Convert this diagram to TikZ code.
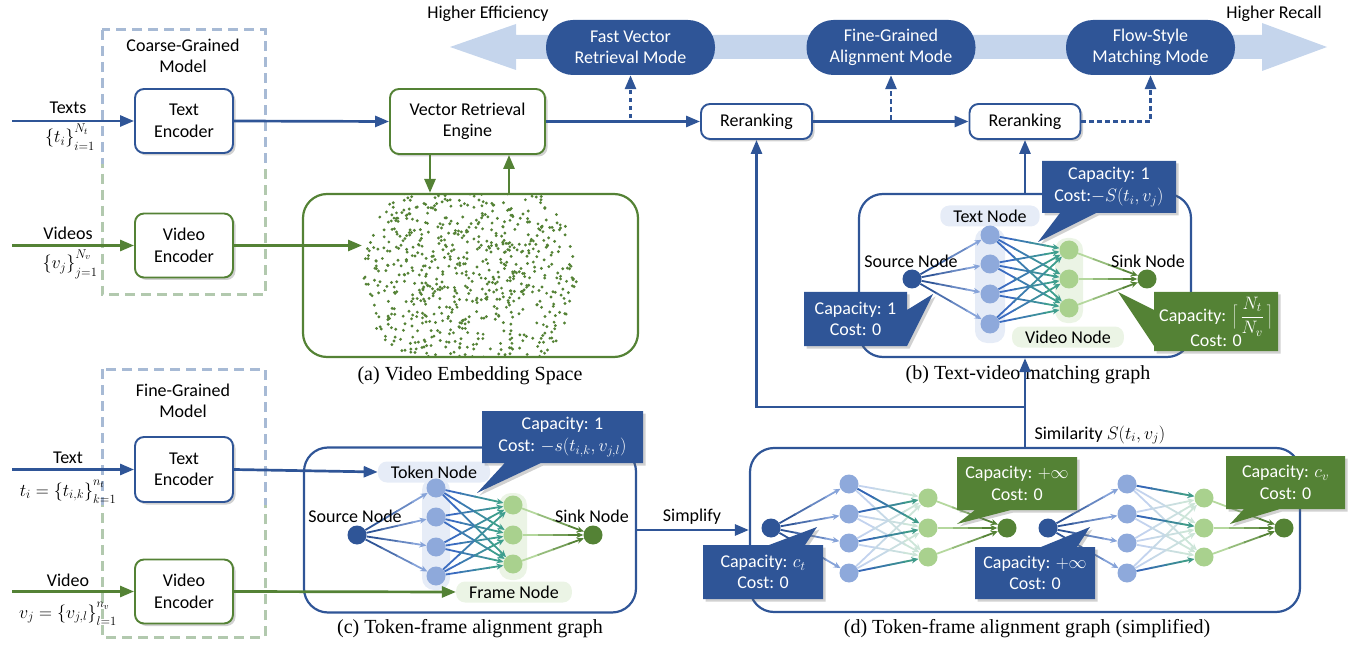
\RequirePackage{fix-cm}
\documentclass[tikz,border=0pt]{standalone}
\usepackage{fontspec}
\setmainfont{Carlito}
\newfontfamily\capfont{Liberation Serif}
\usetikzlibrary{arrows.meta,shapes.callouts,shadows,calc}

\definecolor{dblue}{HTML}{2F5597}
\definecolor{dgreen}{HTML}{548235}
\definecolor{banner}{HTML}{C5D5EC}
\definecolor{tnc}{HTML}{8EA9DB}
\definecolor{vnc}{HTML}{A9D18E}
\definecolor{bgb}{HTML}{E6ECF7}
\definecolor{bgg}{HTML}{EBF4E5}
\definecolor{dashb}{HTML}{A7BAD5}
\definecolor{dashg}{HTML}{B2C9AE}
\definecolor{sAa}{HTML}{2F5597}
\definecolor{sAb}{HTML}{86A3D9}
\definecolor{tBa}{HTML}{3B6CC0}
\definecolor{tBb}{HTML}{3E9E8E}
\definecolor{fCa}{HTML}{B5D89E}
\definecolor{fCb}{HTML}{548235}
\definecolor{lLa}{HTML}{C3D3EE}
\definecolor{lLb}{HTML}{CDE5D9}
\definecolor{dDa}{HTML}{3567B5}
\definecolor{dDb}{HTML}{3E9A8A}

\newcommand\gedge[4]{%
  \path (#1) -- (#2) coordinate[pos=0] (gA) coordinate[pos=1] (gB);
  \draw[line width=1.8pt, draw=#3] (gA) -- ($(gA)!0.27!(gB)$);
  \draw[line width=1.8pt, draw=#3!67!#4] ($(gA)!0.25!(gB)$) -- ($(gA)!0.52!(gB)$);
  \draw[line width=1.8pt, draw=#3!33!#4] ($(gA)!0.50!(gB)$) -- ($(gA)!0.77!(gB)$);
  \draw[line width=1.8pt, draw=#4, -{Stealth[length=7pt,width=6pt]}] ($(gA)!0.75!(gB)$) -- (gB);
}
\newcommand\upsc[1]{\raisebox{4pt}{$\scriptstyle #1$}}
\newcommand\dnsc[1]{\raisebox{-3pt}{$\scriptstyle #1$}}

\begin{document}
\begin{tikzpicture}[x=1pt,y=-1pt, font=\fontsize{18}{21.5}\selectfont,
 shd/.style={drop shadow={shadow xshift=2.5pt,shadow yshift=-2.5pt,opacity=0.3,fill=black!60}},
 box/.style={draw=#1, line width=1.9pt, rounded corners=9pt, fill=white, align=center, inner sep=2pt, shd},
 bigbox/.style={draw=#1, line width=2.2pt, rounded corners=24pt, inner sep=0pt},
 pill/.style={fill=dblue, text=white, rounded corners=27pt, minimum width=169pt, minimum height=55pt, align=center, inner sep=0pt},
 call/.style={rectangle callout, fill=#1, text=white, align=center, inner sep=2pt, callout pointer width=36pt, shd},
 barrow/.style={draw=dblue, line width=2.7pt, -{Triangle[length=14pt,width=11pt]}},
 garrow/.style={draw=dgreen, line width=2.7pt, -{Triangle[length=14pt,width=11pt]}},
 darrow/.style={draw=dblue, line width=2.8pt, dash pattern=on 4.5pt off 3.5pt, -{Triangle[length=14pt,width=11pt]}},
 dashbox/.style={draw=#1, line width=3pt, dash pattern=on 10pt off 6pt},
 gn/.style={circle, fill=#1, minimum size=19pt, inner sep=0pt},
 lab/.style={fill=#1, rounded corners=9pt, inner xsep=13pt, inner ysep=1pt, minimum height=21pt},
 capf/.style={font=\capfont\fontsize{20}{24}\selectfont},
]
\useasboundingbox (0,0) rectangle (1369,647);

% ---------- top banner ----------
\fill[banner] (450,47) -- (516,24) -- (516,35) -- (1262,35) -- (1262,23) -- (1327,47) -- (1262,71) -- (1262,59) -- (516,59) -- (516,70) -- cycle;
\node (he) at (488,14) {Higher Efficiency};
\node (hr) at (1274,14) {Higher Recall};
\node[pill] (pill1) at (630.5,47.5) {Fast Vector\\Retrieval Mode};
\node[pill] (pill2) at (891,47.5) {Fine-Grained\\Alignment Mode};
\node[pill] (pill3) at (1150.5,47.5) {Flow-Style\\Matching Mode};

% ---------- dashed model boxes ----------
\draw[dashbox=dashb] (102,30) rectangle (265,295);
\begin{scope}\clip (80,165) rectangle (290,310);
\draw[dashbox=dashg] (102,30) rectangle (265,295);
\end{scope}
\draw[dashbox=dashb] (102,369) rectangle (265,637);
\begin{scope}\clip (80,505) rectangle (290,647);
\draw[dashbox=dashg] (102,369) rectangle (265,637);
\end{scope}
\node[align=center] (cgm) at (183,56) {Coarse-Grained\\Model};
\node[align=center] (fgm) at (183,401) {Fine-Grained\\Model};

% ---------- encoders ----------
\node[box=dblue, minimum width=98pt, minimum height=64pt] (te1) at (184,121) {Text\\Encoder};
\node[box=dgreen, minimum width=98pt, minimum height=64pt] (ve1) at (184,245.5) {Video\\Encoder};
\node[box=dblue, minimum width=98pt, minimum height=65pt] (te2) at (184,469.5) {Text\\Encoder};
\node[box=dgreen, minimum width=98pt, minimum height=64pt] (ve2) at (184,591.5) {Video\\Encoder};

\coordinate (in1) at (12,121);
\coordinate (in2) at (12,245.5);
\coordinate (in3) at (12,469.5);
\coordinate (in4) at (12,591.5);
\draw[barrow] (in1) -- (te1.west);
\draw[garrow] (in2) -- (ve1.west);
\draw[barrow] (in3) -- (te2.west);
\draw[garrow] (in4) -- (ve2.west);
\node (l1) at (68,108) {Texts};
\node (m1) at (70,137) {$\{t_i\}^{\upsc{N_t}}_{\dnsc{i=1}}$};
\node (l2) at (68,233) {Videos};
\node (m2) at (70,264) {$\{v_j\}^{\upsc{N_v}}_{\dnsc{j=1}}$};
\node (l3) at (68,458) {Text};
\node (m3) at (68,492) {$t_i=\{t_{i,k}\}^{\upsc{n_t}}_{\dnsc{k=1}}$};
\node (l4) at (68,580) {Video};
\node (m4) at (68,614) {$v_j=\{v_{j,l}\}^{\upsc{n_v}}_{\dnsc{l=1}}$};

% ---------- vector retrieval + reranking ----------
\node[box=dgreen, minimum width=155pt, minimum height=65pt] (vre) at (467.5,121.5) {Vector Retrieval\\Engine};
\node[box=dblue, minimum width=111pt, minimum height=35pt] (rr1) at (756.5,121.5) {Reranking};
\node[box=dblue, minimum width=111pt, minimum height=35pt] (rr2) at (1025,121.5) {Reranking};

\draw[barrow] (te1.east) -- (vre.west);
\coordinate (j1) at (630.5,121.5);
\coordinate (j2) at (891,121.5);
\coordinate (j3) at (1150.5,121.5);
\draw[barrow] (vre.east) -- (rr1.west);
\draw[barrow] (rr1.east) -- (rr2.west);
\draw[darrow] (vre.east) -- (j1) -- (pill1.south);
\draw[darrow] (rr1.east) -- (j2) -- (pill2.south);
\draw[darrow] (rr2.east) -- (j3) -- (pill3.south);

% ---------- (a) embedding space ----------
\node[bigbox=dgreen, minimum width=335pt, minimum height=163pt] (boxa) at (470.5,275.5) {};
\begin{scope}
\clip (304,196) rectangle (637,356);
\pgfmathsetseed{4242}
\foreach \k in {1,...,820}{
  \pgfmathsetmacro{\rr}{108*sqrt(rnd)}
  \pgfmathsetmacro{\aa}{360*rnd}
  \fill[dgreen] ({470+\rr*cos(\aa)},{276+\rr*sin(\aa)}) circle (1.6);
}
\end{scope}
\coordinate (dotsin) at (362,245.5);
\draw[garrow] (ve1.east) -- (dotsin);
\draw[garrow] ([xshift=-37.5pt]vre.south) -- ([xshift=-40.5pt]boxa.north);
\draw[garrow] ([xshift=38.5pt]boxa.north) -- ([xshift=41.5pt]vre.south);
\node[capf] (capa) at (470,376) {(a) Video Embedding Space};

% ---------- (b) text-video matching graph ----------
\node[bigbox=dblue, minimum width=332pt, minimum height=163pt] (boxb) at (1025,275.5) {};
\draw[barrow] (boxb.north) -- (rr2.south);
\fill[bgb, rounded corners=12pt] (975,228) rectangle (1005,343);
\fill[bgg, rounded corners=12pt] (1055,238) rectangle (1083,323);
\node[lab=bgb] (bTL) at (990,216) {Text Node};
\node[lab=bgg] (bVL) at (1068,337) {Video Node};
\node[gn=dblue] (bS) at (912,279) {};
\foreach \i/\y in {1/235,2/264,3/294,4/324} \node[gn=tnc] (bT\i) at (990,\y) {};
\foreach \j/\y in {1/250,2/279,3/308} \node[gn=vnc] (bV\j) at (1069,\y) {};
\node[gn=dgreen] (bK) at (1147,279) {};
\foreach \i in {1,...,4} \gedge{bS}{bT\i}{sAa}{sAb};
\foreach \i in {1,...,4} \foreach \j in {1,2,3} \gedge{bT\i}{bV\j}{tBa}{tBb};
\foreach \j in {1,2,3} \gedge{bV\j}{bK}{fCa}{fCb};
\node (bSL) at (911,261) {Source Node};
\node (bKL) at (1148,261) {Sink Node};
\node[call=dblue, minimum width=134pt, minimum height=52pt, callout absolute pointer={(1038,242)}] (cb1) at (1109,187) {Capacity: 1\\Cost:$-S(t_i,v_j)$};
\node[call=dblue, minimum width=103pt, minimum height=54pt, callout absolute pointer={(933,294)}] (cb2) at (855.5,319) {Capacity: 1\\Cost: 0};
\node[call=dgreen, minimum width=124pt, minimum height=59pt, callout absolute pointer={(1118,292)}] (cb3) at (1216,321.5) {Capacity: $\Biggl\lceil\,\displaystyle\frac{N_t}{N_v}\,\Biggr\rceil$\\[-3pt]Cost: 0};
\node[capf] (capb) at (1028,375) {(b) Text-video matching graph};

% ---------- (c) token-frame alignment graph ----------
\node[bigbox=dblue, minimum width=332pt, minimum height=165pt] (boxc) at (470,530) {};
\fill[bgb, rounded corners=12pt] (422,478) rectangle (450,590);
\fill[bgg, rounded corners=12pt] (499,493) rectangle (527,580);
\node[lab=bgb] (cTL) at (434,472) {Token Node};
\node[lab=bgg] (cFL) at (514,592) {Frame Node};
\node[gn=dblue] (cS) at (357,535) {};
\foreach \i/\y in {1/488,2/517,3/547,4/576} \node[gn=tnc] (cT\i) at (436,\y) {};
\foreach \j/\y in {1/505,2/535,3/564} \node[gn=vnc] (cF\j) at (513,\y) {};
\node[gn=dgreen] (cK) at (593,535) {};
\foreach \i in {1,...,4} \gedge{cS}{cT\i}{sAa}{sAb};
\foreach \i in {1,...,4} \foreach \j in {1,2,3} \gedge{cT\i}{cF\j}{tBa}{tBb};
\foreach \j in {1,2,3} \gedge{cF\j}{cK}{fCa}{fCb};
\node (cSL) at (355,516) {Source Node};
\node (cKL) at (592,516) {Sink Node};
\draw[barrow] (te2.east) -- (cTL.west);
\draw[garrow] (ve2.east) -- (cFL.west);
\node[call=dblue, minimum width=161pt, minimum height=52pt, callout absolute pointer={(477,493)}] (cc1) at (562.5,437) {Capacity: 1\\Cost: $-s(t_{i,k},v_{j,l})$};
\node[capf] (capc) at (470,629) {(c) Token-frame alignment graph};

% ---------- (d) simplified ----------
\node[bigbox=dblue, minimum width=550pt, minimum height=164pt] (boxd) at (1025,530) {};
\draw[barrow] (boxc.east) -- (boxd.west);
\node (simp) at (692,517) {Simplify};
\foreach \p/\sx/\tx/\fx/\kx in {d1/771/849/928/1007, d2/1048/1127/1204/1284}{
  \node[gn=dblue] (\p S) at (\sx,528) {};
  \foreach \i/\y in {1/484,2/514,3/543,4/573} \node[gn=tnc] (\p T\i) at (\tx,\y) {};
  \foreach \j/\y in {1/498,2/528,3/557} \node[gn=vnc] (\p F\j) at (\fx,\y) {};
  \node[gn=dgreen] (\p K) at (\kx,528) {};
  \foreach \i in {1,...,4} \gedge{\p S}{\p T\i}{sAa}{sAb};
  \foreach \i in {1,...,4} \foreach \j in {1,2,3} \gedge{\p T\i}{\p F\j}{lLa}{lLb};
  \foreach \j in {1,2,3} \gedge{\p F\j}{\p K}{fCa}{fCb};
}
\foreach \i/\j in {1/2,2/1,3/2,4/3} \gedge{d1T\i}{d1F\j}{dDa}{dDb};
\foreach \i/\j in {1/1,2/2,4/3} \gedge{d2T\i}{d2F\j}{dDa}{dDb};
\node[call=dblue, minimum width=120pt, minimum height=54pt, callout absolute pointer={(817,527)}] (cd1) at (763,572) {Capacity: $c_t$\\Cost: 0};
\node[call=dgreen, minimum width=120pt, minimum height=53pt, callout absolute pointer={(957,524)}] (cd2) at (1017,483.5) {Capacity: $+\infty$\\Cost: 0};
\node[call=dblue, minimum width=120pt, minimum height=52pt, callout absolute pointer={(1090,527)}] (cd3) at (1035,573) {Capacity: $+\infty$\\Cost: 0};
\node[call=dgreen, minimum width=119pt, minimum height=53pt, callout absolute pointer={(1230,524)}] (cd4) at (1285.5,482.5) {Capacity: $c_v$\\Cost: 0};
\node[capf] (capd) at (1027,629) {(d) Token-frame alignment graph (simplified)};

% ---------- similarity feedback ----------
\draw[barrow] (boxd.north) -- (boxb.south);
\coordinate (br) at (1025,407);
\draw[barrow] (br) -| (rr1.south);
\node[anchor=west] (siml) at (1031,435) {Similarity $S(t_i,v_j)$};
\end{tikzpicture}
\end{document}
